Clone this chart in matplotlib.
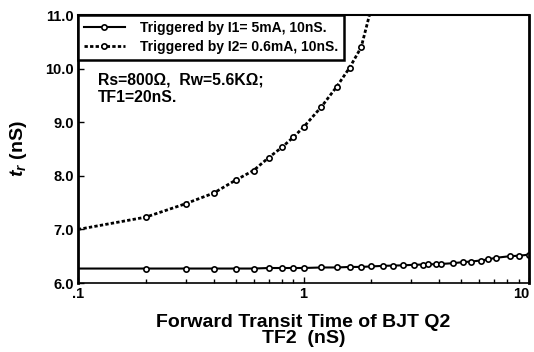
import matplotlib
matplotlib.use("Agg")
import matplotlib.pyplot as plt
from matplotlib.ticker import FixedLocator, FixedFormatter, LogLocator, NullFormatter

plt.rcParams['font.family'] = ['Liberation Sans', 'DejaVu Sans']
plt.rcParams['font.weight'] = 'bold'
plt.rcParams['mathtext.fontset'] = 'custom'
plt.rcParams['mathtext.it'] = 'Liberation Sans:bold:italic'
plt.rcParams['mathtext.rm'] = 'Liberation Sans:bold'

# TF2 (nS) vs t_r (nS)
tf2_i1 = [0.1, 0.2, 0.3, 0.4, 0.5, 0.6, 0.7, 0.8, 0.9, 1.0, 1.2, 1.4, 1.6, 1.8, 2.0,
          2.25, 2.5, 2.75, 3.1, 3.4, 3.55, 3.85, 4.05, 4.6, 5.1, 5.5, 6.1, 6.55,
          7.1, 8.2, 9.05, 10.0]
tr_i1 = [6.27, 6.27, 6.27, 6.27, 6.27, 6.27, 6.28, 6.28, 6.28, 6.28, 6.29, 6.29,
         6.30, 6.30, 6.31, 6.32, 6.325, 6.33, 6.34, 6.345, 6.35, 6.35, 6.355,
         6.37, 6.39, 6.40, 6.42, 6.44, 6.47, 6.50, 6.51, 6.53]

tf2_i2 = [0.1, 0.2, 0.3, 0.4, 0.5, 0.6, 0.7, 0.8, 0.9, 1.0, 1.2, 1.4, 1.6, 1.8, 2.0]
tr_i2 = [7.0, 7.23, 7.48, 7.68, 7.92, 8.10, 8.34, 8.53, 8.72, 8.91, 9.29, 9.66,
         10.02, 10.40, 11.15]

label_i1 = 'Triggered by I1= 5mA, 10nS.'
label_i2 = 'Triggered by I2= 0.6mA, 10nS.'

fig = plt.figure(figsize=(5.34, 3.52), dpi=100)
ax = fig.add_axes([0.146, 0.196, 0.845, 0.761])

ax.plot(tf2_i1, tr_i1, color='k', lw=1.5, marker='o', ms=3.8, mfc='white',
        mec='k', mew=1.2, markevery=range(1, len(tf2_i1)), label=label_i1)
ax.plot(tf2_i2, tr_i2, color='k', lw=2, ls=(0, (1.2, 0.8)), marker='o', ms=3.8,
        mfc='white', mec='k', mew=1.2, markevery=range(1, len(tf2_i2)),
        label=label_i2)

ax.set_xscale('log')
ax.set_xlim(0.1, 10)
ax.set_ylim(6.0, 11.0)

ax.xaxis.set_major_locator(FixedLocator([0.1, 1, 10]))
ax.xaxis.set_major_formatter(FixedFormatter(['.1', '1', '10']))
ax.xaxis.set_minor_locator(LogLocator(base=10, subs=range(2, 10)))
ax.xaxis.set_minor_formatter(NullFormatter())
ax.set_yticks([6, 7, 8, 9, 10, 11])
ax.set_yticklabels(['6.0', '7.0', '8.0', '9.0', '10.0', '11.0'])

ax.tick_params(axis='both', which='major', direction='in', length=4, width=1,
               labelsize=10.5, pad=3)
ax.tick_params(axis='x', which='minor', direction='in', length=3, width=1)
for lab in ax.get_xticklabels() + ax.get_yticklabels():
    lab.set_fontweight('bold')
# the last x label sits at the figure edge, keep it inside
ax.get_xticklabels()[-1].set_horizontalalignment('right')

ax.spines['left'].set_linewidth(2)
ax.spines['right'].set_linewidth(2)
ax.spines['top'].set_linewidth(1.5)
ax.spines['bottom'].set_linewidth(1.2)

leg = ax.legend(loc='upper left', bbox_to_anchor=(0, 1), borderaxespad=0,
                numpoints=1, fancybox=False, framealpha=1, edgecolor='k',
                prop={'size': 10, 'weight': 'bold'}, handlelength=3.0,
                handletextpad=1.1, borderpad=0.4, labelspacing=0.4)
leg.get_frame().set_linewidth(1.8)

ax.text(0.123, 9.92, 'Rs=800\u03a9,  Rw=5.6K\u03a9;\nTF1=20nS.', fontsize=11.3,
        fontweight='bold', va='top', ha='left', linespacing=1.2)

ax.set_xlabel('Forward Transit Time of BJT Q2\nTF2  (nS)', fontsize=14,
              fontweight='bold', linespacing=0.95, labelpad=9)
ax.set_ylabel(r'$t_r$ (nS)', fontsize=14, fontweight='bold', labelpad=12)

fig.savefig('out.png', dpi=100)
